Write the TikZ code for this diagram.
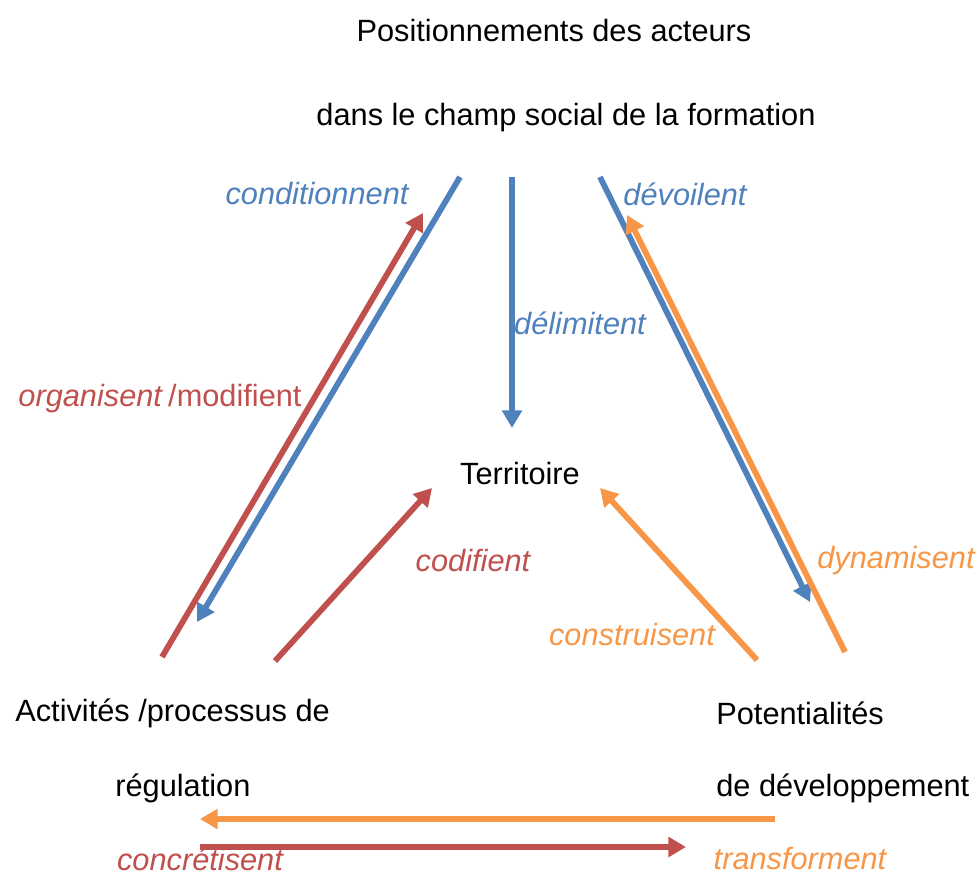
\documentclass[tikz,border=0pt]{standalone}
\usepackage{fontspec}
\setmainfont{Liberation Sans}
\definecolor{myBlue}{RGB}{79,129,189}
\definecolor{myRed}{RGB}{192,80,77}
\definecolor{myOrange}{RGB}{247,150,70}
\usetikzlibrary{arrows.meta}

\begin{document}
\begin{tikzpicture}[
      x=0.02cm, y=-0.02cm,
      mytext/.style={
         inner sep=0pt,
         font=\fontsize{17.5}{20}\selectfont},
      mylabel/.style={
         inner sep=0pt,
         font=\fontsize{17.5}{20}\selectfont\itshape},
      myarrow/.style={
         line width=3.3pt,
         -{Triangle[length=10pt,width=11pt]}}
      ]
      \useasboundingbox (0,0) rectangle (980,874);

      % the four poles
      \node[mytext] (pos1) at (554,31) {Positionnements des acteurs};
      \node[mytext] (pos2) at (566,118) {dans le champ social de la formation};
      \node[mytext] (terr) at (520,474) {Territoire};
      \node[mytext,anchor=west] (act1) at (15,713) {Activités /processus de};
      \node[mytext,anchor=west] (act2) at (115,788) {régulation};
      \node[mytext,anchor=west] (pot1) at (716,713) {Potentialités};
      \node[mytext,anchor=west] (pot2) at (716,788) {de développement};

      % arrow ends
      \coordinate (cond1) at (460,177);  \coordinate (cond2) at (197,622);
      \coordinate (deli1) at (512,177);  \coordinate (deli2) at (512,428);
      \coordinate (devo1) at (600,177);  \coordinate (devo2) at (810,602);
      \coordinate (orga1) at (162,657);  \coordinate (orga2) at (423,213);
      \coordinate (codi1) at (275,661);  \coordinate (codi2) at (432,488);
      \coordinate (dyna1) at (845,652);  \coordinate (dyna2) at (627,215);
      \coordinate (cons1) at (757,660);  \coordinate (cons2) at (600,488);
      \coordinate (tran1) at (775,819);  \coordinate (tran2) at (200,819);
      \coordinate (conc1) at (200,847);  \coordinate (conc2) at (686,847);

    \foreach \i/\j/\c in {% start/end/colour
      cond1/cond2/myBlue,
      deli1/deli2/myBlue,
      devo1/devo2/myBlue,
      orga1/orga2/myRed,
      codi1/codi2/myRed,
      conc1/conc2/myRed,
      dyna1/dyna2/myOrange,
      cons1/cons2/myOrange,
      tran1/tran2/myOrange}
    \draw [myarrow,\c] (\i) -- (\j);

      % verbs
      \node[mylabel,myBlue] (lcond) at (317,194) {conditionnent};
      \node[mylabel,myBlue] (ldeli) at (580,323) {délimitent};
      \node[mylabel,myBlue] (ldevo) at (685,194) {dévoilent};
      \node[mytext,myRed] (lorga) at (160,399) {\textit{organisent}\,/modifient};
      \node[mylabel,myRed] (lcodi) at (473,561) {codifient};
      \node[mylabel,myOrange] (ldyna) at (896,561) {dynamisent};
      \node[mylabel,myOrange] (lcons) at (632,635) {construisent};
      \node[mylabel,myRed] (lconc) at (200,859) {concrétisent};
      \node[mylabel,myOrange] (ltran) at (800,859) {transforment};
    \end{tikzpicture}
\end{document}
